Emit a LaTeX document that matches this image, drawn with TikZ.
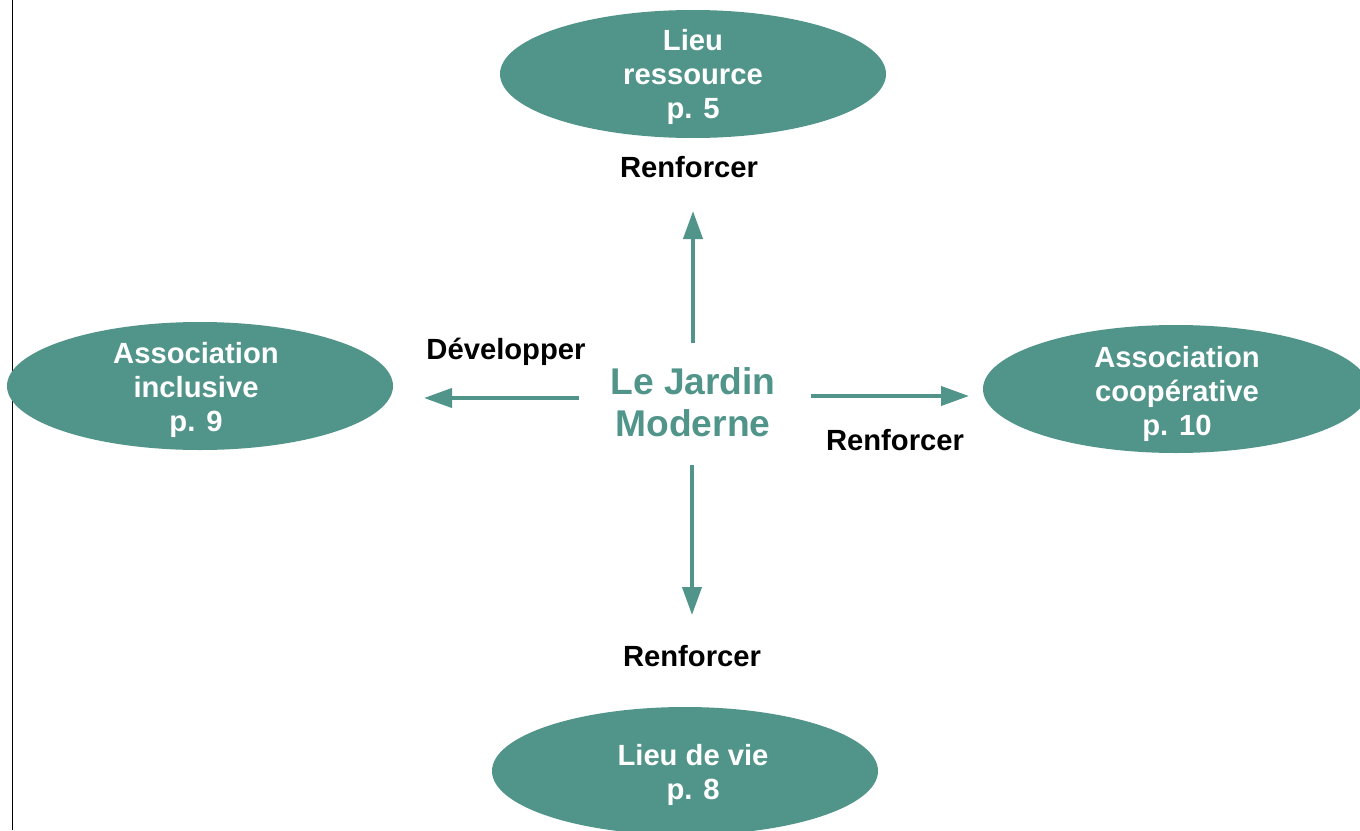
\documentclass[tikz,border=0pt]{standalone}
\usepackage{fontspec}
\setmainfont{Liberation Sans}
\usetikzlibrary{arrows.meta,shapes.geometric}
\definecolor{teal1}{HTML}{519489}
\begin{document}
\begin{tikzpicture}[x=0.5pt,y=-0.5pt,
  oval/.style={ellipse,fill=teal1,minimum width=193pt,minimum height=64pt,inner sep=0pt},
  ovaltext/.style={text=white,font=\fontsize{14.6}{17}\selectfont\bfseries,align=center,inner sep=0pt},
  lbl/.style={font=\fontsize{14.6}{17}\selectfont\bfseries,text=black,inner sep=0pt},
  arr/.style={draw=teal1,line width=2pt,-{Triangle[length=14pt,width=9.5pt]}}]
\useasboundingbox (0,0) rectangle (1360,830);
\clip (0,0) rectangle (1360,830);
\draw[black,line width=0.8pt] (12.5,0) -- (12.5,830);
\node[oval] (top) at (693,74) {};
\node[ovaltext] (toptext) at (693,77) {Lieu\\ressource\\p. 5};
\node[oval] (left) at (200,386) {};
\node[ovaltext] (lefttext) at (196,390) {Association\\inclusive\\p. 9};
\node[oval] (right) at (1176,389) {};
\node[ovaltext] (righttext) at (1177,394) {Association\\coopérative\\p. 10};
\node[oval] (bottom) at (685,771) {};
\node[ovaltext] (bottomtext) at (693,775) {Lieu de vie\\p. 8};
\node[font=\fontsize{18.6}{21}\selectfont\bfseries,text=teal1,align=center,inner sep=0pt] (center) at (693,402) {Le Jardin\\Moderne};
\node[lbl] (ltop) at (689,167) {Renforcer};
\node[lbl] (lleft) at (506,352) {Développer};
\node[lbl] (lright) at (895,440) {Renforcer};
\node[lbl] (lbottom) at (692,656) {Renforcer};
\coordinate (us) at (693,343); \coordinate (ue) at (693,211);
\coordinate (ls) at (579,398); \coordinate (le) at (424,398);
\coordinate (rs) at (811,396); \coordinate (re) at (969,396);
\coordinate (ds) at (692,465); \coordinate (de) at (692,615);
\draw[arr] (us) -- (ue);
\draw[arr] (ls) -- (le);
\draw[arr] (rs) -- (re);
\draw[arr] (ds) -- (de);
\end{tikzpicture}
\end{document}
